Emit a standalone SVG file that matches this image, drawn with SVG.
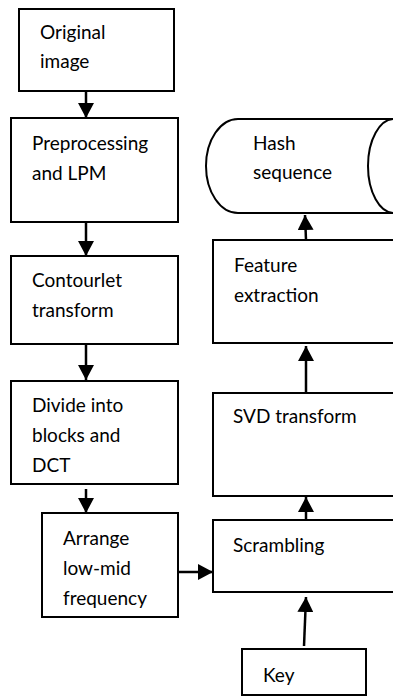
<svg xmlns="http://www.w3.org/2000/svg" width="393" height="696" viewBox="0 0 393 696">
<style>
.box{fill:#fff;stroke:#000;stroke-width:2}
.t{font-family:Lato,"Liberation Sans",sans-serif;font-size:19px;fill:#000}
.c{stroke:#000;stroke-width:2.5;fill:none}
</style>
<defs>
<marker id="ah" markerUnits="userSpaceOnUse" markerWidth="16" markerHeight="16" viewBox="0 0 16 16" refX="15" refY="8" orient="auto">
<path d="M0,0 L15,8 L0,16 Z" fill="#000"/>
</marker>
</defs>
<rect width="393" height="696" fill="#fff"/>
<g id="original"><rect class="box" x="19" y="9" width="155" height="82"/><text class="t" x="40" y="39">Original</text><text class="t" x="40" y="68">image</text></g>
<g id="preprocessing"><rect class="box" x="11" y="118" width="167" height="104"/><text class="t" x="32" y="150">Preprocessing</text><text class="t" x="32" y="180">and LPM</text></g>
<g id="contourlet"><rect class="box" x="11" y="256" width="167" height="88"/><text class="t" x="32" y="287">Contourlet</text><text class="t" x="32" y="317">transform</text></g>
<g id="divide"><rect class="box" x="11" y="381" width="167" height="103"/><text class="t" x="32" y="412">Divide into</text><text class="t" x="32" y="442">blocks and</text><text class="t" x="32" y="472">DCT</text></g>
<g id="arrange"><rect class="box" x="42" y="513" width="136" height="104"/><text class="t" x="63" y="545">Arrange</text><text class="t" x="63" y="575">low-mid</text><text class="t" x="63" y="605">frequency</text></g>
<g id="hash"><path class="box" d="M238,119 L396,119 L396,213 L238,213 A32,47 0 0 1 238,119 Z"/><path class="box" d="M394,119 A26,47 0 0 0 394,213" fill="none"/><text class="t" x="253" y="150">Hash</text><text class="t" x="253" y="179">sequence</text></g>
<g id="feature"><rect class="box" x="213" y="240" width="190" height="103"/><text class="t" x="234" y="272">Feature</text><text class="t" x="234" y="302">extraction</text></g>
<g id="svd"><rect class="box" x="213" y="393" width="190" height="103"/><text class="t" x="233" y="423">SVD transform</text></g>
<g id="scrambling"><rect class="box" x="213" y="520" width="190" height="72"/><text class="t" x="233" y="552">Scrambling</text></g>
<g id="key"><rect class="box" x="242" y="649" width="124" height="46"/><text class="t" x="263" y="682">Key</text></g>
<g id="connectors">
<line class="c" x1="86" y1="91" x2="86" y2="118" marker-end="url(#ah)"/>
<line class="c" x1="86" y1="222" x2="86" y2="256" marker-end="url(#ah)"/>
<line class="c" x1="86" y1="344" x2="86" y2="380" marker-end="url(#ah)"/>
<line class="c" x1="86" y1="489" x2="86" y2="513" marker-end="url(#ah)"/>
<line class="c" x1="178" y1="572" x2="213" y2="572" marker-end="url(#ah)"/>
<line class="c" x1="304" y1="646" x2="306" y2="597" marker-end="url(#ah)"/>
<line class="c" x1="306" y1="520" x2="306" y2="497" marker-end="url(#ah)"/>
<line class="c" x1="306" y1="393" x2="306" y2="346" marker-end="url(#ah)"/>
<line class="c" x1="306" y1="240" x2="305" y2="215" marker-end="url(#ah)"/>
</g>
</svg>
